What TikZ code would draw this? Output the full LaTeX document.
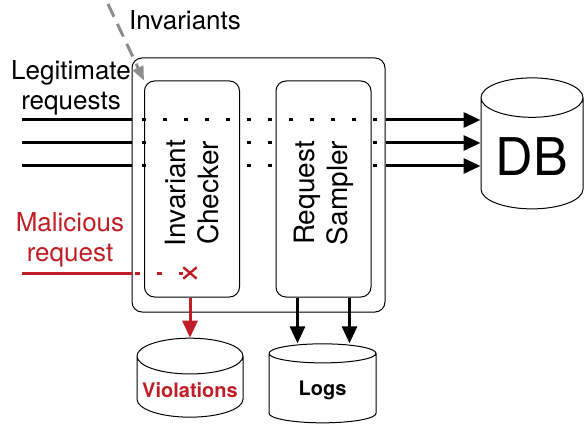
\documentclass[tikz,border=0pt]{standalone}
\usepackage{fontspec}
\setmainfont{TeX Gyre Heros}
\usetikzlibrary{arrows.meta,shapes.geometric,shapes.misc}
\definecolor{alertred}{RGB}{192,30,38}
\definecolor{hintgray}{RGB}{140,140,140}

\tikzset{
	unit/.style={draw, rounded corners=10pt, minimum width=95pt, minimum height=216pt, line width=1pt},
	unittext/.style={fill=white, rotate=90, align=center, inner sep=0pt, minimum width=120pt,
		minimum height=90pt, font=\fontsize{28}{33}\selectfont},
	store/.style={draw, cylinder, shape border rotate=90, line width=1pt},
	txt/.style={align=center, font=\fontsize{26}{30}\selectfont},
	reqline/.style={line width=3pt},
	dots/.style={line width=3pt, dash pattern=on 4pt off 17pt, dash phase=-10pt},
	push/.style={line width=3pt, -{Triangle[length=17pt,width=15pt]}},
}

\begin{document}
\begin{tikzpicture}[x=1pt,y=-1pt]
		\useasboundingbox (0,0) rectangle (584,425);
		% the guard and its two stages
		\node[draw, rounded corners=10pt, minimum width=253pt, minimum height=254pt, line width=1pt] (proxy) at (258.5,185) {};
		\node[unit] (checker) at (192,189) {};
		\node[unit] (sampler) at (323.5,189) {};
		% stores
		\node[store, minimum width=102pt, minimum height=131pt, aspect=0.5, font=\fontsize{52}{52}\selectfont] (db) at (532,157) {DB};
		\node[store, minimum width=106pt, minimum height=79pt, aspect=0.35, text=alertred, font=\fontsize{20}{24}\selectfont\bfseries] (violations) at (190,390) {Violations};
		\node[store, minimum width=107pt, minimum height=79pt, aspect=0.35, font=\fontsize{20}{24}\selectfont\bfseries] (logs) at (322.5,390) {Logs};
		% labels
		\node[txt] (invlabel) at (185,20) {Invariants};
		\node[txt] (legit) at (71,88) {Legitimate\\requests};
		\node[txt, text=alertred] (malicious) at (70,240) {Malicious\\request};
		% legitimate traffic
		\foreach \y/\n in {120/1,143/2,166/3} {
			\coordinate (in\n) at (22,\y);
			\draw[reqline] (in\n) -- (in\n -| proxy.west);
			\draw[dots] (in\n -| proxy.west) -- (in\n -| proxy.east);
			\draw[push] (in\n -| proxy.east) -- (in\n -| db.west);
		}
		% stage names sit over the dots
		\node[unittext] (checkertext) at (192,193) {Invariant\\Checker};
		\node[unittext] (samplertext) at (323.5,193) {Request\\Sampler};
		% malicious traffic
		\coordinate (bad) at (22,273);
		\node[cross out, draw=alertred, line width=2.4pt, minimum width=11pt, minimum height=9pt, inner sep=0pt] (drop) at (190,273) {};
		\draw[reqline, alertred] (bad) -- (bad -| proxy.west);
		\draw[reqline, alertred, dash pattern=on 5pt off 17pt, dash phase=-3pt] (bad -| proxy.west) -- (drop.west);
		\draw[push, alertred] (drop |- checker.south) -- (drop |- violations.north);
		\draw[push] ([xshift=-26pt]sampler.south) -- ([xshift=-26pt]sampler.south |- logs.north);
		\draw[push] ([xshift=26pt]sampler.south) -- ([xshift=26pt]sampler.south |- logs.north);
		% invariants fed in
		\coordinate (feed) at (108,4);
		\draw[hintgray, line width=3pt, dash pattern=on 14pt off 8pt, -{Triangle[length=14pt,width=11pt]}] (feed) -- (checker.north west);
	\end{tikzpicture}
\end{document}
